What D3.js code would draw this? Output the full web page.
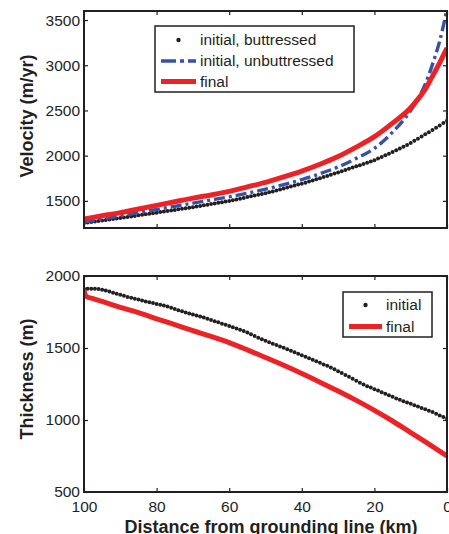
<!DOCTYPE html>
<html>
<head>
<meta charset="utf-8">
<title>Velocity and thickness profiles</title>
<style>
    body { margin: 0; background: #fff; }
    svg { display: block; font-family: "Liberation Sans", Arial, Helvetica, sans-serif; }
    .axis text { font-size: 15.5px; fill: #231f20; }
    .axis line { stroke: #231f20; stroke-width: 1.2; }
    .axis path.domain { display: none; }
    .frame { fill: none; stroke: #231f20; stroke-width: 2; }
    .label { font-size: 18px; font-weight: bold; fill: #231f20; }
    .legend rect { fill: #fff; stroke: #231f20; stroke-width: 1.5; }
    .legend text { font-size: 15.5px; fill: #231f20; }
</style>
</head>
<body>
<div id="target"></div>
<script src="https://cdnjs.cloudflare.com/ajax/libs/d3/7.8.5/d3.min.js"></script>
<script>
    // distance from grounding line (km) for the dotted series
    var kmDots = [100, 99, 98, 97, 96, 95, 94, 93, 92, 91, 90, 89, 88, 87, 86, 85, 84, 83, 82, 81,
        80, 79, 78, 77, 76, 75, 74, 73, 72, 71, 70, 69, 68, 67, 66, 65, 64, 63, 62, 61,
        60, 59, 58, 57, 56, 55, 54, 53, 52, 51, 50, 49, 48, 47, 46, 45, 44, 43, 42, 41,
        40, 39, 38, 37, 36, 35, 34, 33, 32, 31, 30, 29, 28, 27, 26, 25, 24, 23, 22, 21,
        20, 19, 18, 17, 16, 15, 14, 13, 12, 11, 10, 9, 8, 7, 6, 5, 4, 3, 2, 1, 0];

    // velocity (m/yr), initial buttressed
    var velButtressed = [1255, 1260, 1266, 1271, 1277, 1282, 1288, 1293, 1299, 1304, 1310,
        1316, 1322, 1328, 1334, 1340, 1346, 1352, 1358, 1364, 1370,
        1376, 1382, 1388, 1394, 1400, 1406, 1412, 1418, 1424, 1430,
        1437, 1444, 1451, 1458, 1465, 1472, 1479, 1486, 1493, 1500,
        1508, 1516, 1524, 1533, 1542, 1551, 1560, 1568, 1577, 1585,
        1595, 1605, 1615, 1626, 1637, 1648, 1658, 1669, 1680, 1690,
        1701, 1713, 1725, 1738, 1750, 1763, 1776, 1789, 1802, 1815,
        1828, 1841, 1855, 1868, 1882, 1895, 1909, 1922, 1936, 1950,
        1968, 1986, 2004, 2022, 2041, 2060, 2079, 2099, 2119, 2140,
        2164, 2188, 2212, 2236, 2260, 2285, 2310, 2335, 2360, 2385];

    // thickness (m), initial
    var thickInitial = [1912, 1912, 1912, 1911, 1909, 1905, 1899, 1892, 1884, 1877, 1869,
        1862, 1855, 1849, 1842, 1836, 1829, 1823, 1818, 1812, 1806,
        1801, 1796, 1788, 1780, 1771, 1763, 1755, 1747, 1740, 1733,
        1726, 1718, 1711, 1703, 1695, 1686, 1678, 1669, 1661, 1652,
        1644, 1635, 1627, 1618, 1607, 1595, 1584, 1572, 1561, 1550,
        1540, 1530, 1521, 1511, 1501, 1491, 1481, 1470, 1460, 1450,
        1440, 1429, 1419, 1408, 1397, 1386, 1376, 1365, 1352, 1339,
        1326, 1313, 1300, 1287, 1273, 1259, 1246, 1235, 1225, 1214,
        1204, 1193, 1182, 1172, 1161, 1150, 1140, 1131, 1121, 1112,
        1102, 1093, 1084, 1074, 1065, 1055, 1043, 1032, 1020, 1008];

    // velocity lines
    var kmVelLines = [100, 95, 90, 85, 80, 75, 70, 65, 60, 55, 50, 45, 40, 35, 30, 25, 20, 15, 10, 8, 6, 4, 2, 0];
    var velUnbuttressed = [1265, 1300, 1335, 1370, 1405, 1440, 1475, 1510, 1545, 1585, 1630, 1680,
        1735, 1800, 1875, 1970, 2080, 2260, 2500, 2630, 2790, 3010, 3270, 3620];
    var velFinal = [1300, 1335, 1370, 1410, 1450, 1490, 1530, 1565, 1605, 1655, 1705, 1765,
        1830, 1905, 1990, 2095, 2210, 2360, 2530, 2625, 2735, 2880, 3030, 3190];

    // thickness line
    var kmThickLine = [100, 99.6, 99, 98, 95, 90, 85, 80, 75, 70, 65, 60, 55, 50, 45, 40, 35, 30, 25, 20, 15, 10, 5, 0];
    var thickFinal = [1900, 1866, 1853, 1846, 1823, 1782, 1745, 1703, 1662, 1620, 1580, 1537,
        1487, 1434, 1380, 1323, 1263, 1201, 1136, 1067, 993, 913, 833, 750];

    var xTicks = [100, 80, 60, 40, 20, 0];
    var velTicks = [1500, 2000, 2500, 3000, 3500];
    var thickTicks = [500, 1000, 1500, 2000];

    var red = '#ec2227', blue = '#3652a6', ink = '#231f20';

    var svg = d3.select('#target').append('svg')
            .attr('width', 449)
            .attr('height', 534);

    var x = d3.scaleLinear().domain([100, 0]).range([84, 447]);
    var fmt = d3.format('d');

    var zip = function (xs, ys) {
        return xs.map(function (k, i) { return [k, ys[i]]; });
    };

    var drawPanel = function (id, top, bottom, yDomain, yTicks, showX) {
        var y = d3.scaleLinear().domain(yDomain).range([bottom, top]);
        var g = svg.append('g').attr('class', 'panel ' + id);

        g.append('clipPath').attr('id', 'clip-' + id)
                .append('rect')
                .attr('x', 84).attr('y', top)
                .attr('width', 363).attr('height', bottom - top);

        g.append('g').attr('class', 'axis')
                .attr('transform', 'translate(84,0)')
                .call(d3.axisLeft(y).tickValues(yTicks).tickSize(-4).tickPadding(4).tickFormat(fmt));
        g.append('g').attr('class', 'axis')
                .attr('transform', 'translate(447,0)')
                .call(d3.axisRight(y).tickValues(yTicks).tickSize(-4).tickFormat(''));
        g.append('g').attr('class', 'axis')
                .attr('transform', 'translate(0,' + bottom + ')')
                .call(d3.axisBottom(x).tickValues(xTicks).tickSize(-4).tickPadding(9)
                        .tickFormat(showX ? fmt : ''));
        g.append('g').attr('class', 'axis')
                .attr('transform', 'translate(0,' + top + ')')
                .call(d3.axisTop(x).tickValues(xTicks).tickSize(-4).tickFormat(''));

        var plot = g.append('g').attr('clip-path', 'url(#clip-' + id + ')');

        g.append('rect').attr('class', 'frame')
                .attr('x', 84).attr('y', top)
                .attr('width', 363).attr('height', bottom - top);

        return {y: y, plot: plot, g: g};
    };

    var line = function (y) {
        return d3.line()
                .x(function (d) { return x(d[0]); })
                .y(function (d) { return y(d[1]); })
                .curve(d3.curveMonotoneX);
    };

    var dots = function (plot, y, data) {
        plot.selectAll('circle.dot')
                .data(data)
                .enter()
                .append('circle')
                .attr('class', 'dot')
                .attr('cx', function (d) { return x(d[0]); })
                .attr('cy', function (d) { return y(d[1]); })
                .attr('r', 2)
                .attr('fill', ink);
    };

    // ---- velocity panel
    var vel = drawPanel('vel', 11, 228, [1200, 3600], velTicks, false);
    dots(vel.plot, vel.y, zip(kmDots, velButtressed));
    vel.plot.append('path')
            .datum(zip(kmVelLines, velUnbuttressed))
            .attr('d', line(vel.y))
            .attr('fill', 'none')
            .attr('stroke', blue)
            .attr('stroke-width', 3.4)
            .attr('stroke-dasharray', '11,4,3,4');
    vel.plot.append('path')
            .datum(zip(kmVelLines, velFinal))
            .attr('d', line(vel.y))
            .attr('fill', 'none')
            .attr('stroke', red)
            .attr('stroke-width', 5);

    // ---- thickness panel
    var thick = drawPanel('thick', 276, 492, [500, 2000], thickTicks, true);
    dots(thick.plot, thick.y, zip(kmDots, thickInitial));
    thick.plot.append('path')
            .datum(zip(kmThickLine, thickFinal))
            .attr('d', line(thick.y))
            .attr('fill', 'none')
            .attr('stroke', red)
            .attr('stroke-width', 5);

    // ---- axis titles
    svg.append('text').attr('class', 'label')
            .attr('transform', 'translate(33,116) rotate(-90)')
            .attr('text-anchor', 'middle')
            .text('Velocity (m/yr)');
    svg.append('text').attr('class', 'label')
            .attr('transform', 'translate(33,379) rotate(-90)')
            .attr('text-anchor', 'middle')
            .text('Thickness (m)');
    svg.append('text').attr('class', 'label')
            .attr('x', 271).attr('y', 533)
            .attr('text-anchor', 'middle')
            .text('Distance from grounding line (km)');

    // ---- legends
    var legend = function (bx, by, bw, bh, sx0, sx1, tx, items) {
        var g = svg.append('g').attr('class', 'legend');
        g.append('rect').attr('x', bx).attr('y', by).attr('width', bw).attr('height', bh);
        items.forEach(function (it) {
            if (it.type === 'dot') {
                g.append('circle').attr('cx', (sx0 + sx1) / 2).attr('cy', it.y).attr('r', 2.2).attr('fill', ink);
            } else {
                g.append('line')
                        .attr('x1', sx0).attr('x2', sx1).attr('y1', it.y).attr('y2', it.y)
                        .attr('stroke', it.color)
                        .attr('stroke-width', it.width)
                        .attr('stroke-dasharray', it.dash || null);
            }
            g.append('text').attr('x', tx).attr('y', it.y).attr('dy', '0.35em').text(it.label);
        });
    };

    legend(155, 26, 199, 66, 161, 196, 200, [
        {type: 'dot', y: 40, label: 'initial, buttressed'},
        {type: 'line', y: 61, color: blue, width: 3.4, dash: '15,4,4,4', label: 'initial, unbuttressed'},
        {type: 'line', y: 81.5, color: red, width: 5, label: 'final'}
    ]);
    legend(343, 292, 89, 45, 349, 382, 386, [
        {type: 'dot', y: 305, label: 'initial'},
        {type: 'line', y: 326.5, color: red, width: 5, label: 'final'}
    ]);
</script>
</body>
</html>
